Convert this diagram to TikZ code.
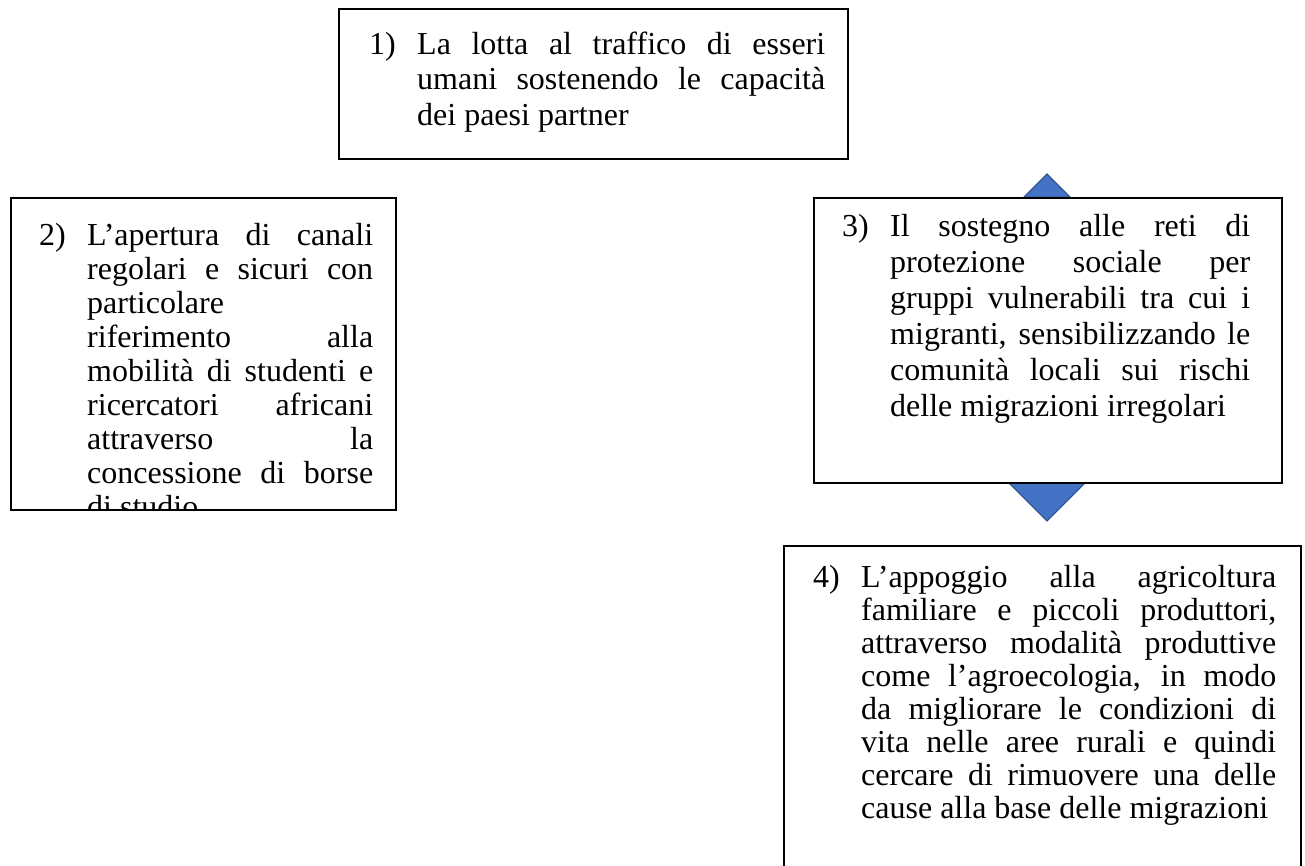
\documentclass[tikz,border=0pt]{standalone}
\usepackage{fontspec}
\setmainfont{Liberation Serif}
\definecolor{triblue}{HTML}{4472C4}
\definecolor{triedge}{HTML}{2F528F}
\newcommand{\jl}[2]{\makebox[#1][s]{#2}}
\newcommand{\numlab}[1]{\rule{0pt}{30pt}\llap{\makebox[48pt][l]{#1}}}
\tikzset{
  boxnode/.style={draw=black, line width=1.6pt, fill=white, rectangle, inner sep=0pt, anchor=north west},
  txt/.style={anchor=north west, inner sep=0pt, align=left, font=\fontsize{32}{36}\selectfont},
  tri/.style={fill=triblue, draw=triedge, line width=0.8pt, line join=miter},
}
\begin{document}
\begin{tikzpicture}[x=1pt, y=-1pt]
\useasboundingbox (0,0) rectangle (1305,865);
% arrow tips behind box 3
\coordinate (ua) at (1047,174);
\coordinate (ul) at (1024,197);
\coordinate (ur) at (1070,197);
\coordinate (da) at (1047,521);
\coordinate (dl) at (1008,482);
\coordinate (dr) at (1086,482);
\fill[tri] (ul) -- (ua) -- (ur) -- cycle;
\fill[tri] (dl) -- (da) -- (dr) -- cycle;
\draw[triedge, line width=0.8pt] (ul) -- (ua) -- (ur);
\draw[triedge, line width=0.8pt] (dl) -- (da) -- (dr);
% boxes
\node[boxnode, minimum width=509pt, minimum height=150pt] (b1) at (338,8) {};
\node[boxnode, minimum width=385pt, minimum height=312pt] (b2) at (10,197) {};
\node[boxnode, minimum width=468pt, minimum height=285pt] (b3) at (813,197) {};
\node[boxnode, minimum width=517pt, minimum height=330pt] (b4) at (783,545) {};
% texts
\node[txt, font=\fontsize{32}{35.5}\selectfont] (t1) at (417,24) {%
\numlab{1)}\jl{408pt}{La lotta al traffico di esseri}\\
\jl{408pt}{umani sostenendo le capacità}\\
dei paesi partner};
\begin{scope}
\clip (b2.north west) rectangle (b2.south east);
\node[txt, font=\fontsize{32}{34}\selectfont] (t2) at (87,215) {%
\numlab{2)}\jl{286pt}{L’apertura di canali}\\
\jl{286pt}{regolari e sicuri con}\\
particolare\\
\jl{286pt}{riferimento alla}\\
\jl{286pt}{mobilità di studenti e}\\
\jl{286pt}{ricercatori africani}\\
\jl{286pt}{attraverso la}\\
\jl{286pt}{concessione di borse}\\
di studio};
\end{scope}
\node[txt, font=\fontsize{32}{36}\selectfont] (t3) at (890,206) {%
\numlab{3)}\jl{360pt}{Il sostegno alle reti di}\\
\jl{360pt}{protezione sociale per}\\
\jl{360pt}{gruppi vulnerabili tra cui i}\\
\jl{360pt}{migranti, sensibilizzando le}\\
\jl{360pt}{comunità locali sui rischi}\\
delle migrazioni irregolari};
\node[txt, font=\fontsize{32}{33}\selectfont] (t4) at (861,557) {%
\numlab{4)}\jl{415pt}{L’appoggio alla agricoltura}\\
\jl{415pt}{familiare e piccoli produttori,}\\
\jl{415pt}{attraverso modalità produttive}\\
\jl{415pt}{come l’agroecologia, in modo}\\
\jl{415pt}{da migliorare le condizioni di}\\
\jl{415pt}{vita nelle aree rurali e quindi}\\
\jl{415pt}{cercare di rimuovere una delle}\\
cause alla base delle migrazioni};
\end{tikzpicture}
\end{document}
